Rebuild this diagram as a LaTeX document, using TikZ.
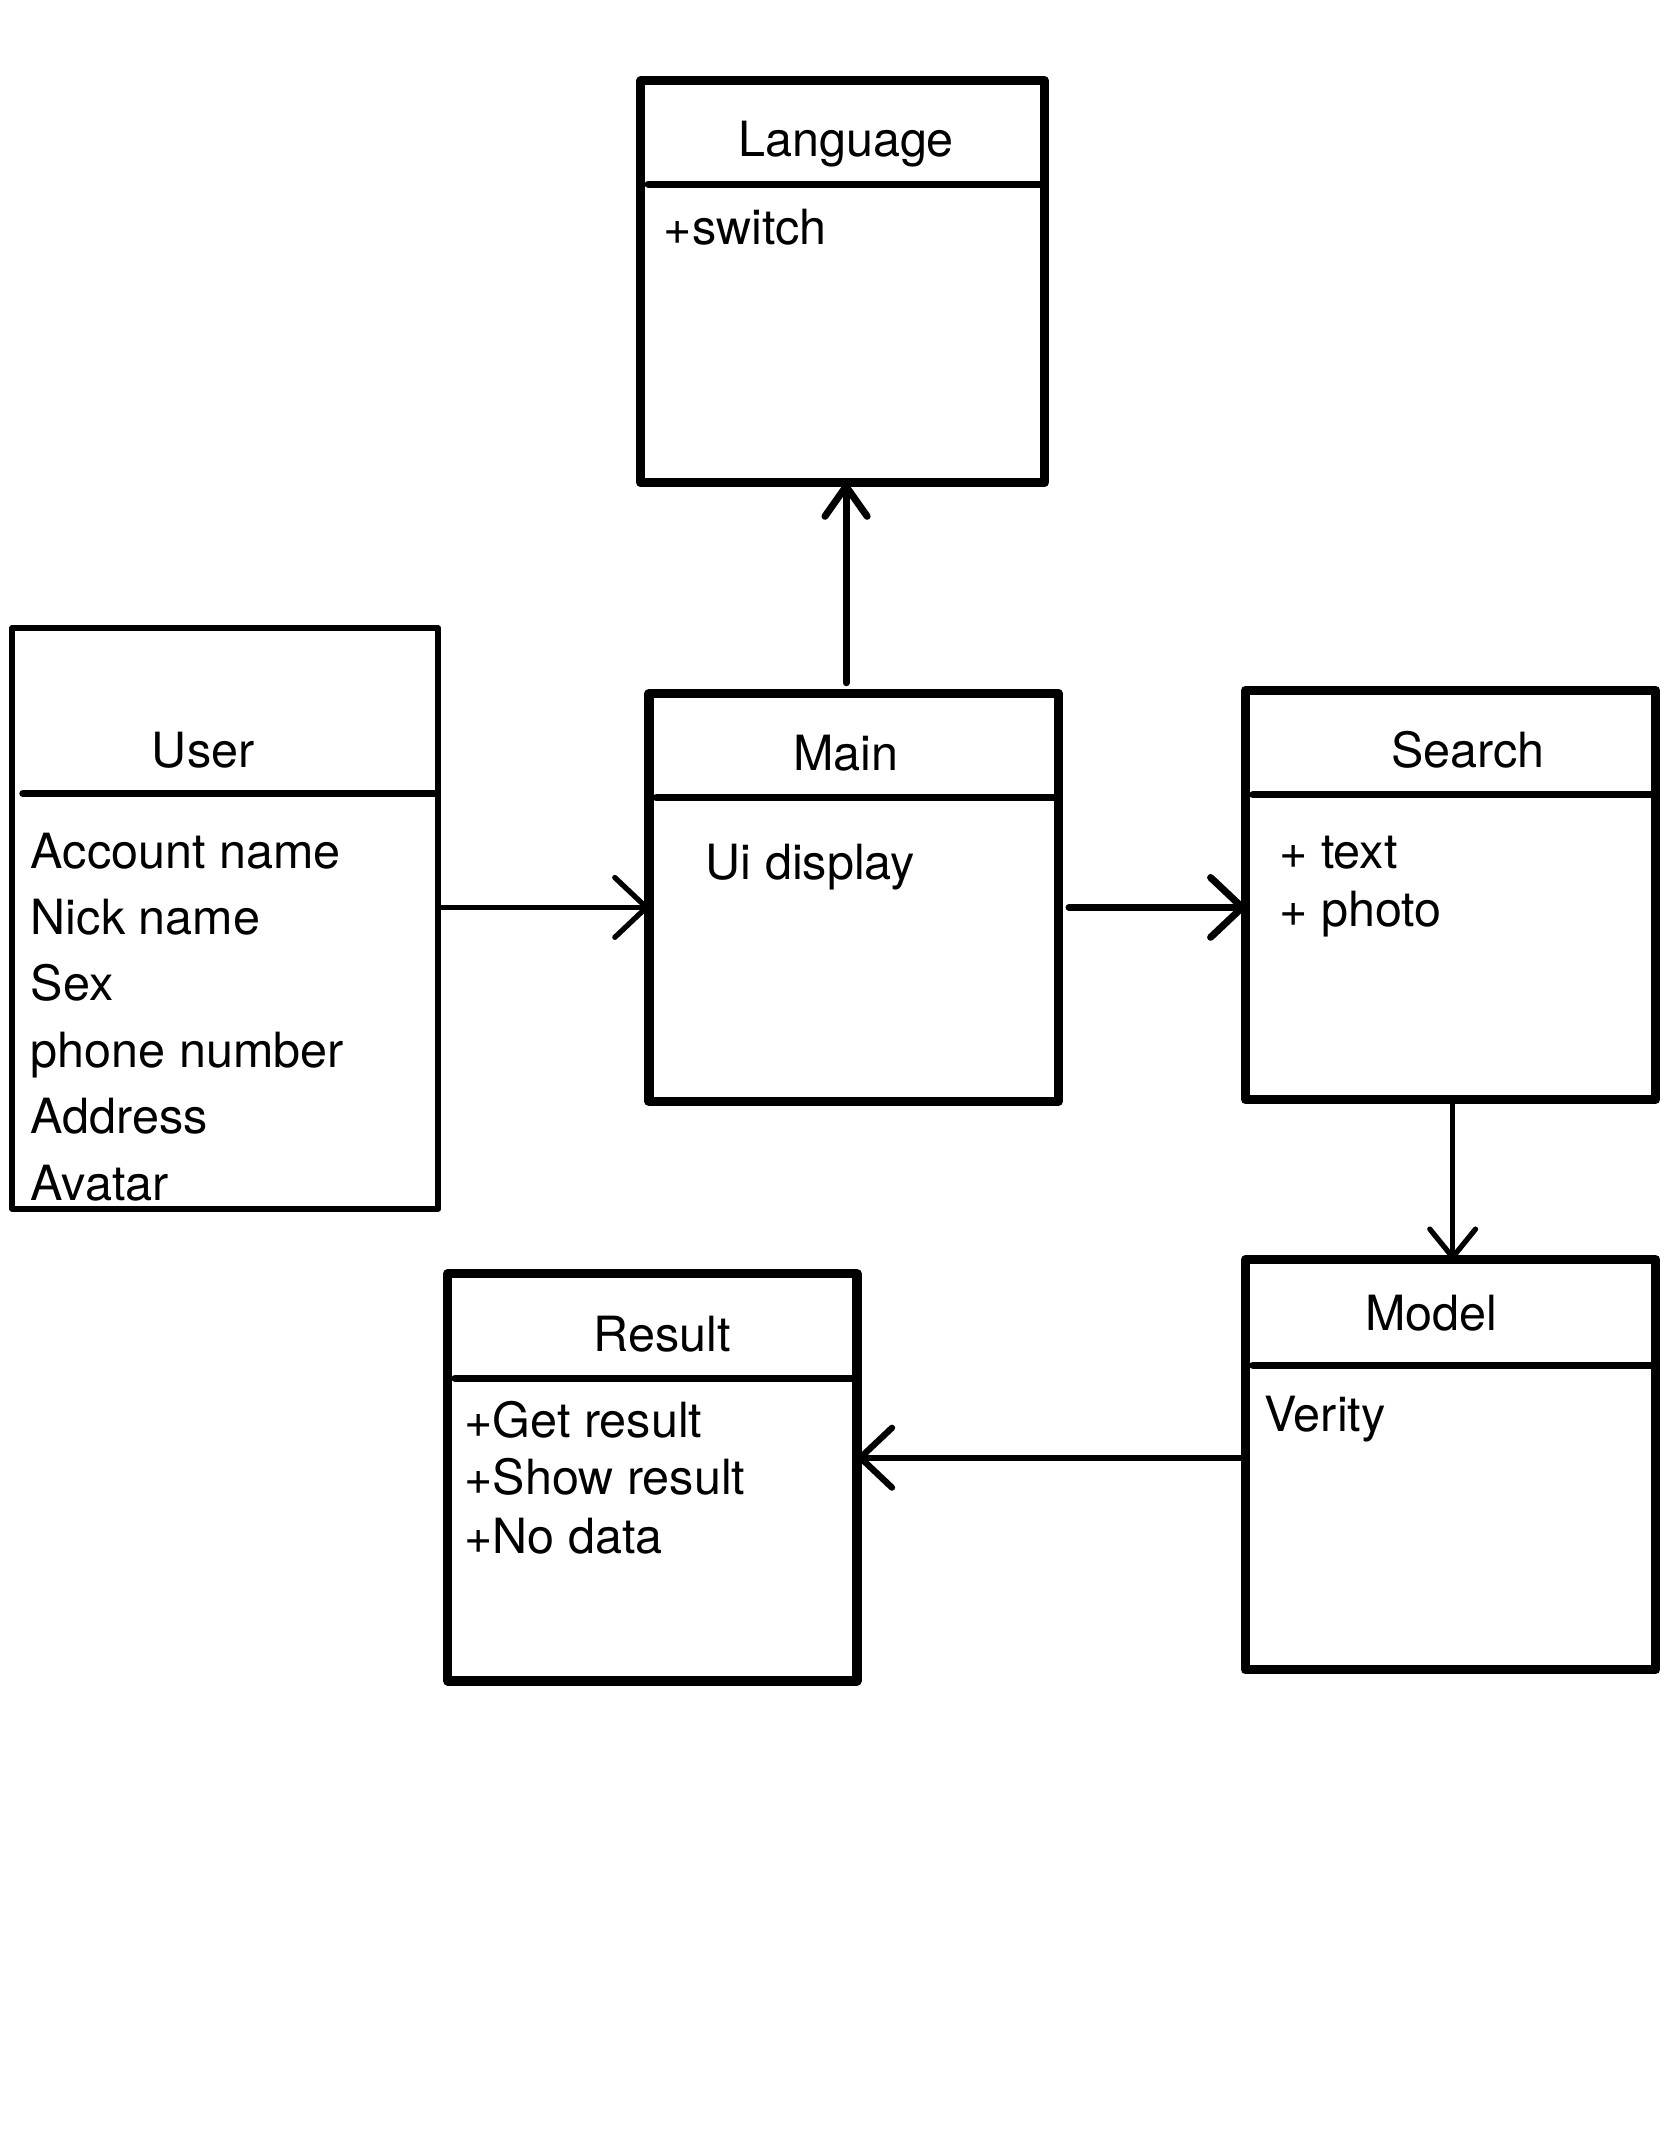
\documentclass[tikz,border=0pt]{standalone}
\usepackage{fontspec}
\setmainfont{TeX Gyre Heros}
\usetikzlibrary{arrows.meta}

\tikzset{
  classbox/.style={draw,line width=2.6pt,line join=round,inner sep=0pt,outer sep=0pt},
  sepline/.style={line width=2pt,line cap=round},
  lbl/.style={inner sep=0pt,font=\fontsize{13.8}{16}\selectfont},
  link/.style={line cap=round,
    -{Straight Barb[length=9pt,width=17pt,line cap=round,line join=round]}}
}

\begin{document}
\begin{tikzpicture}[x=0.01cm,y=-0.01cm]
  \useasboundingbox (0,0) rectangle (1668,2154);
  \begin{scope}[scale=1.006]
  % classes
  \node[classbox,minimum width=4.03cm,minimum height=4.02cm] (lang) at (837.5,280) {};
  \node[classbox,line width=1.7pt,minimum width=4.26cm,minimum height=5.80cm] (user) at (224,913) {};
  \node[classbox,minimum width=4.09cm,minimum height=4.08cm] (main) at (848.5,892) {};
  \node[classbox,minimum width=4.10cm,minimum height=4.09cm] (search) at (1442,889.5) {};
  \node[classbox,minimum width=4.10cm,minimum height=4.10cm] (model) at (1442,1456) {};
  \node[classbox,minimum width=4.09cm,minimum height=4.07cm] (result) at (648.5,1468.5) {};
  \draw[sepline] ([xshift=2pt]lang.west |- 0,183) -- (lang.east |- 0,183);
  \draw[sepline] ([xshift=3pt]user.west |- 0,789) -- ([xshift=-1pt]user.east |- 0,789);
  \draw[sepline] ([xshift=2pt]main.west |- 0,793) -- (main.east |- 0,793);
  \draw[sepline] ([xshift=2pt]search.west |- 0,790) -- (search.east |- 0,790);
  \draw[sepline] ([xshift=2pt]model.west |- 0,1357) -- (model.east |- 0,1357);
  \draw[sepline] ([xshift=2pt]result.west |- 0,1370) -- (result.east |- 0,1370);
  % names
  \node[lbl,anchor=base] (langT) at (841,156) {Language};
  \node[lbl,anchor=base] (userT) at (202,763) {User};
  \node[lbl,anchor=base] (mainT) at (841,766) {Main};
  \node[lbl,anchor=base] (searchT) at (1459,763) {Search};
  \node[lbl,anchor=base] (modelT) at (1423,1323) {Model};
  \node[lbl,anchor=base] (resultT) at (658,1343) {Result};
  % members
  \node[lbl,anchor=base west] (langA) at (659,243) {+switch};
  \foreach \txt [count=\i] in {Account name,Nick name,Sex,phone number,Address,Avatar}
    \node[lbl,anchor=base west] (user\i) at (30,797+66*\i) {\txt};
  \node[lbl,anchor=base west] (mainA) at (701,874) {Ui display};
  \node[lbl,anchor=base west] (searchA) at (1271,863) {+ text};
  \node[lbl,anchor=base west] (searchB) at (1271,921) {+ photo};
  \node[lbl,anchor=base west] (modelA) at (1256,1423) {Verity};
  \node[lbl,anchor=base west] (resultA) at (461,1429) {+Get result};
  \node[lbl,anchor=base west] (resultB) at (461,1486) {+Show result};
  \node[lbl,anchor=base west] (resultC) at (461,1544) {+No data};
  % links
  \draw[link,line width=1.5pt] (user.east |- 0,902) -- (main.west |- 0,902);
  \draw[link,line width=2pt] ([xshift=3pt]main.east |- 0,902) -- (search.west |- 0,902);
  \draw[link,line width=2pt,-{Straight Barb[length=8.5pt,width=12pt,line cap=round,line join=round]}]
    ([yshift=3pt]main.north -| 841,0) -- (lang.south -| 841,0);
  \draw[link,line width=1.5pt,-{Straight Barb[length=8pt,width=13pt,line cap=round,line join=round]}]
    (search.south -| 1444,0) -- (model.north -| 1444,0);
  \draw[link,line width=1.8pt] (model.west |- 0,1449) -- (result.east |- 0,1449);
  \end{scope}
\end{tikzpicture}
\end{document}
